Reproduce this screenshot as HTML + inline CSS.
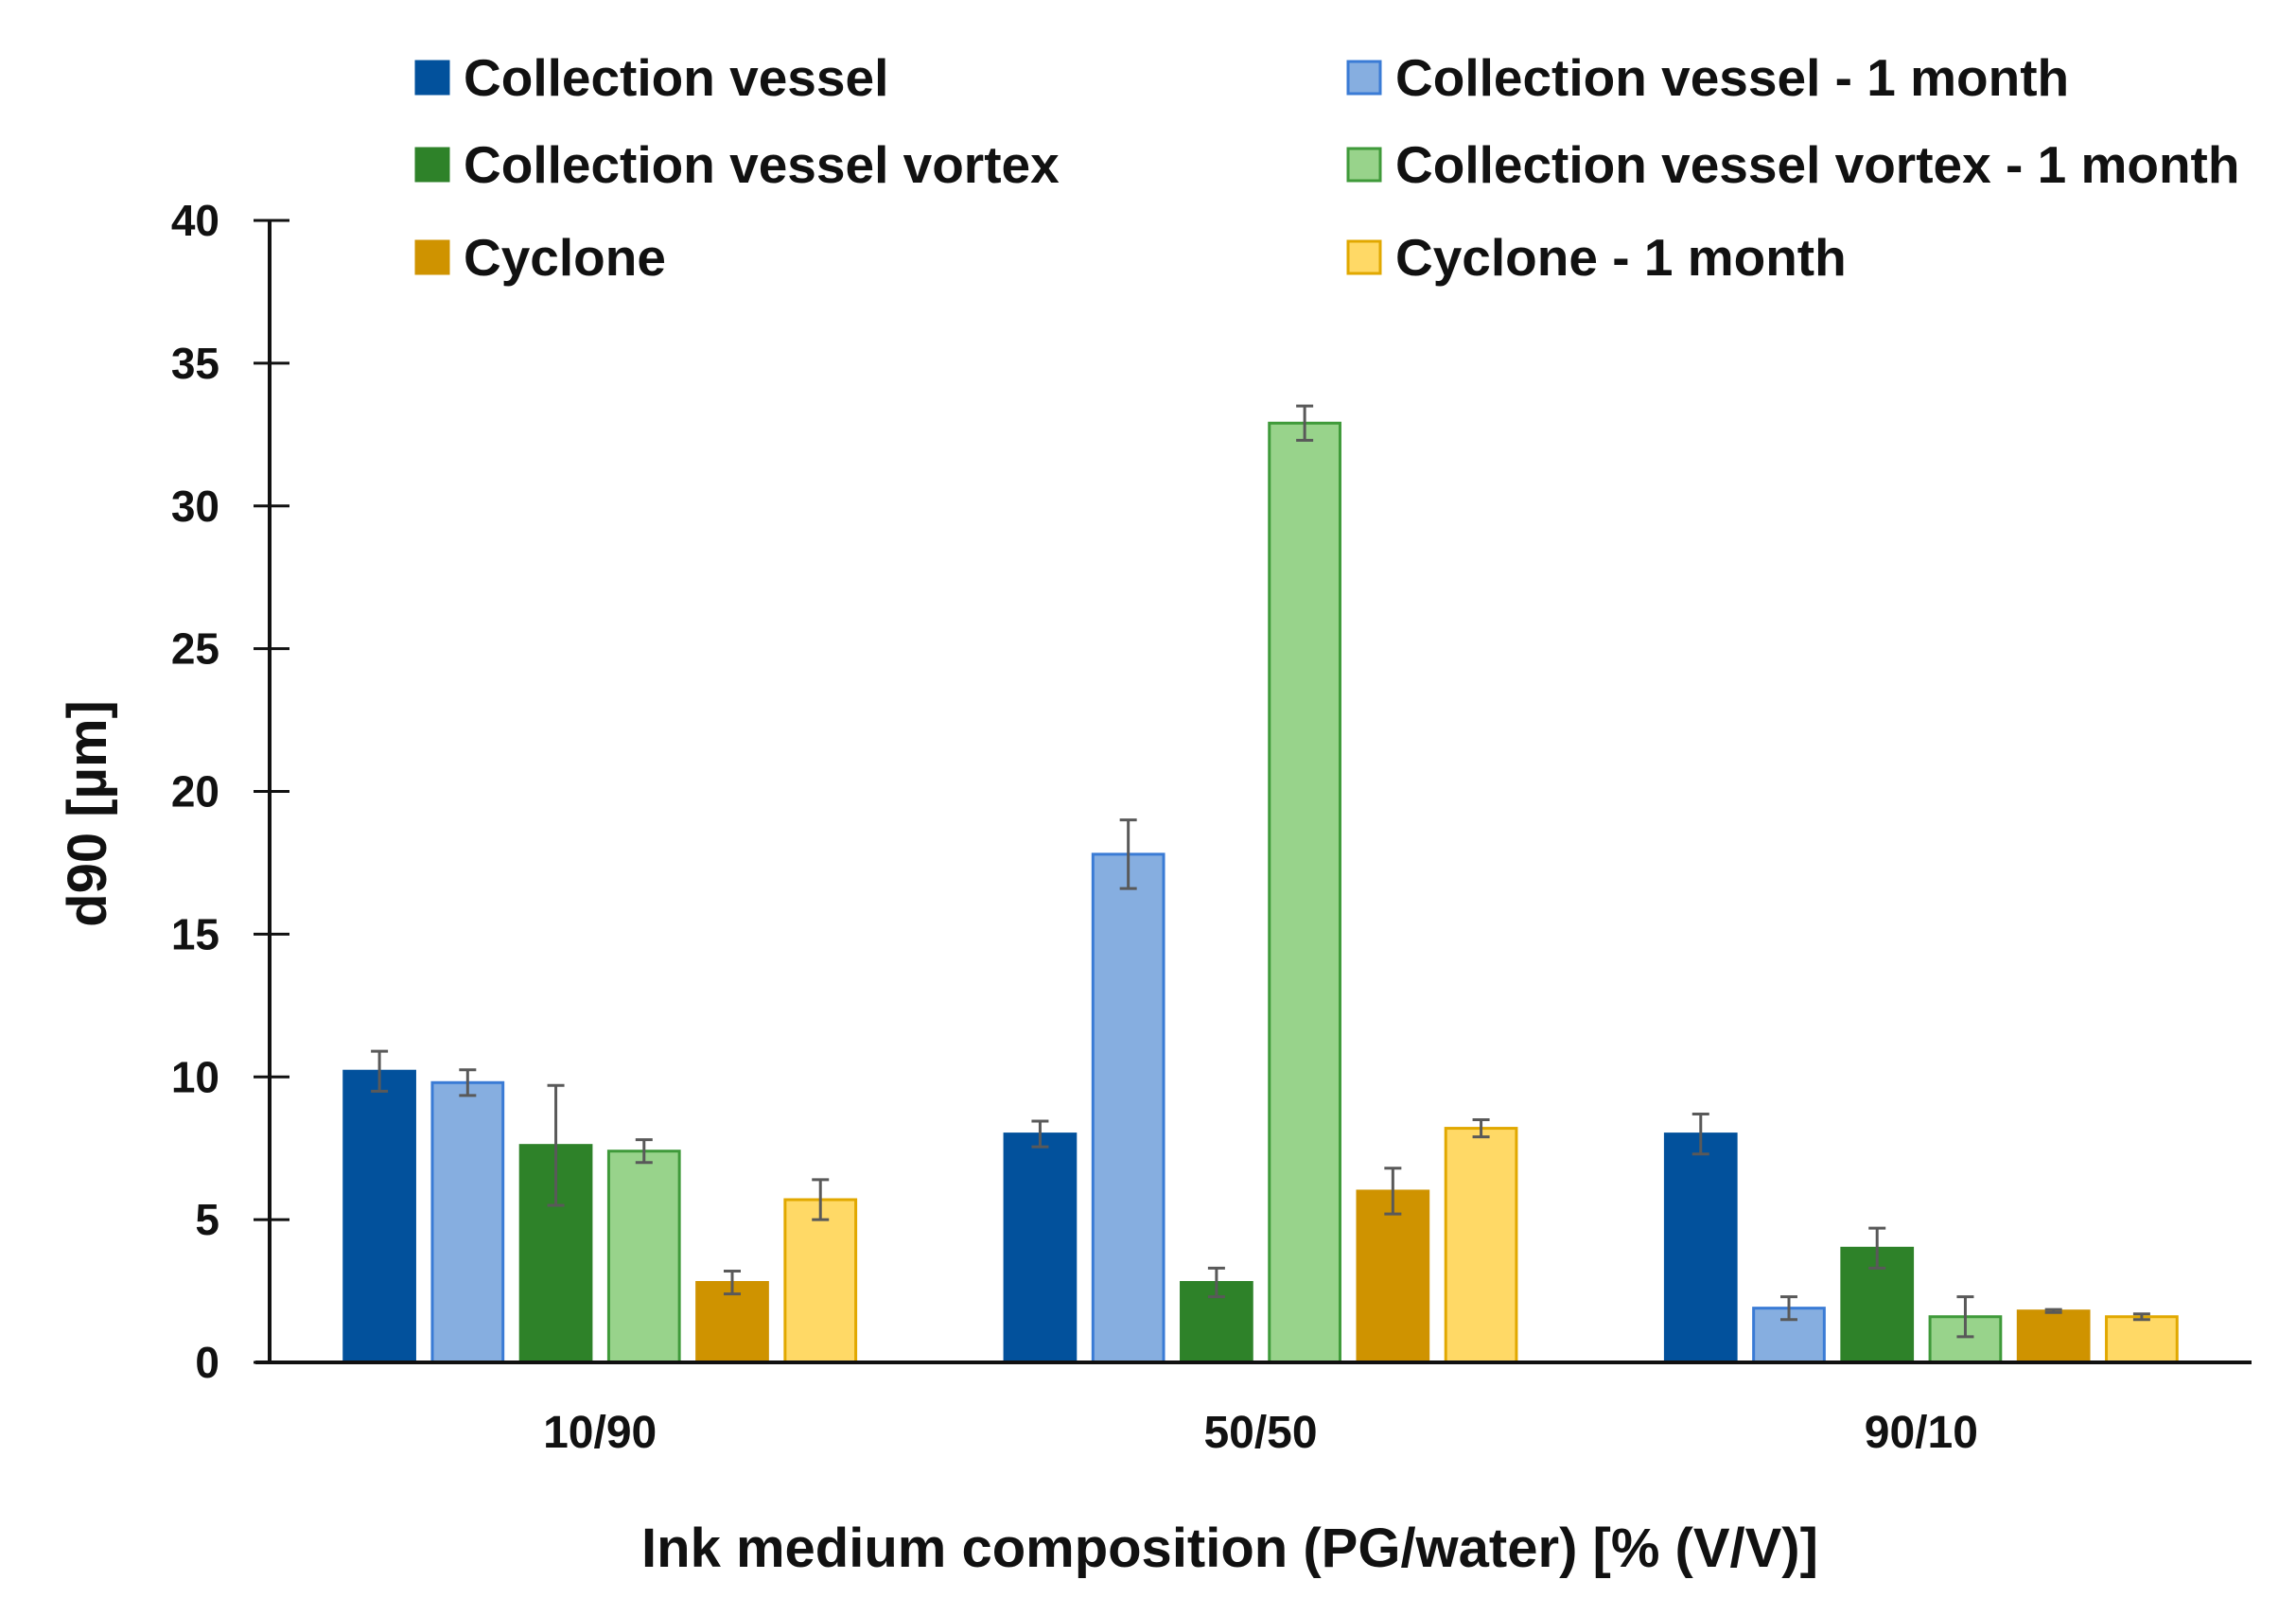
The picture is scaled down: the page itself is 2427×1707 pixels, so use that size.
<!DOCTYPE html>
<html><head><meta charset="utf-8"><style>
html,body{margin:0;padding:0;background:#fff;}
svg{display:block;font-family:"Liberation Sans",sans-serif;font-weight:bold;}
</style></head><body>
<svg id="chart" width="2427" height="1707" viewBox="0 0 2427 1707"></svg>
<script>
const categories = ["10/90","50/50","90/10"];
const seriesNames = ["Collection vessel","Collection vessel - 1 month","Collection vessel vortex","Collection vessel vortex - 1 month","Cyclone","Cyclone - 1 month"];
const cv = [10.2, 8.0, 8.0];
const cv1m = [9.8, 17.8, 1.9];
const cvv = [7.6, 2.8, 4.0];
const cvv1m = [7.4, 32.9, 1.6];
const cyc = [2.8, 6.0, 1.8];
const cyc1m = [5.7, 8.2, 1.6];
const cvErr = [0.7, 0.45, 0.7];
const cv1mErr = [0.45, 1.2, 0.4];
const cvvErr = [2.1, 0.5, 0.7];
const cvv1mErr = [0.4, 0.6, 0.7];
const cycErr = [0.4, 0.8, 0.05];
const cyc1mErr = [0.7, 0.3, 0.1];
const yTicks = [0,5,10,15,20,25,30,35,40];

const series = [cv,cv1m,cvv,cvv1m,cyc,cyc1m];
const errs = [cvErr,cv1mErr,cvvErr,cvv1mErr,cycErr,cyc1mErr];
const fills = ["#02519c","#86aee0","#2e8229","#98d38b","#cf9300","#ffd966"];
const strokes = ["#02519c","#3a7bd5","#2e8229","#3f9a3a","#cf9300","#e1a800"];
const svg = document.getElementById('chart');
const NS = "http://www.w3.org/2000/svg";
const X0=285, X1=2380, Y0=1440, Y40=233;
const y = v => Y0 - (v/40)*(Y0-Y40);
const catW = (X1-X0)/categories.length;
const barStep = catW*0.1335, barW = catW*0.107;
const barX = (c,s) => X0 + catW*(c+0.5) + (s-2.5)*barStep - barW/2;
function mk(tag, attrs, parent){const e=document.createElementNS(NS,tag);for(const k in attrs)e.setAttribute(k,attrs[k]);(parent||svg).appendChild(e);return e;}

for(let s=0;s<series.length;s++){
  for(let c=0;c<categories.length;c++){
    const v=series[s][c];
    const r=mk('rect',{x:barX(c,s),y:y(v),width:barW,height:Y0-y(v),fill:fills[s],stroke:strokes[s],'stroke-width':3});
    
    
  }
}
for(let s=0;s<series.length;s++){
  for(let c=0;c<categories.length;c++){
    const v=series[s][c], e=errs[s][c], cx=barX(c,s)+barW/2;
    const g=mk('g',{stroke:'#595959','stroke-width':3});
    
    
    mk('line',{x1:cx,x2:cx,y1:y(v+e),y2:y(v-e)},g);
    mk('line',{x1:cx-9,x2:cx+9,y1:y(v+e),y2:y(v+e)},g);
    mk('line',{x1:cx-9,x2:cx+9,y1:y(v-e),y2:y(v-e)},g);
  }
}
const ya=mk('line',{x1:X0,x2:X0,y1:Y40,y2:Y0,stroke:'#111','stroke-width':4});


const xa=mk('line',{x1:270,x2:X1,y1:Y0,y2:Y0,stroke:'#111','stroke-width':4});


for(const t of yTicks){
  const tl=mk('line',{x1:268,x2:306,y1:y(t),y2:y(t),stroke:'#111','stroke-width':3});
  
  
  const tx=mk('text',{x:232,y:y(t)+16,'text-anchor':'end','font-size':46,fill:'#111'});
  tx.textContent=t;
  
  
}
categories.forEach((c,i)=>{
  const tx=mk('text',{x:X0+catW*(i+0.5),y:1530,'text-anchor':'middle','font-size':48,fill:'#111'});
  tx.textContent=c;
  
  
});
const xt=mk('text',{x:1300,y:1656,'text-anchor':'middle','font-size':58,fill:'#111'});
xt.textContent='Ink medium composition (PG/water) [% (V/V)]';


const yt=mk('text',{x:0,y:0,'text-anchor':'middle','font-size':58,fill:'#111',transform:'translate(112,860) rotate(-90)'});
yt.textContent='d90 [µm]';


const legPos=[[440,82],[1425,82],[440,174],[1425,174],[440,272],[1425,272]];
seriesNames.forEach((n,i)=>{
  const [lx,ly]=legPos[i];
  const g=mk('g',{});
  
  
  mk('rect',{x:lx,y:ly-17,width:34,height:34,fill:fills[i],stroke:strokes[i],'stroke-width':3},g);
  const t=mk('text',{x:lx+50,y:ly+19,'font-size':55,fill:'#111'},g);
  t.textContent=n;
});
</script>
</body></html>
